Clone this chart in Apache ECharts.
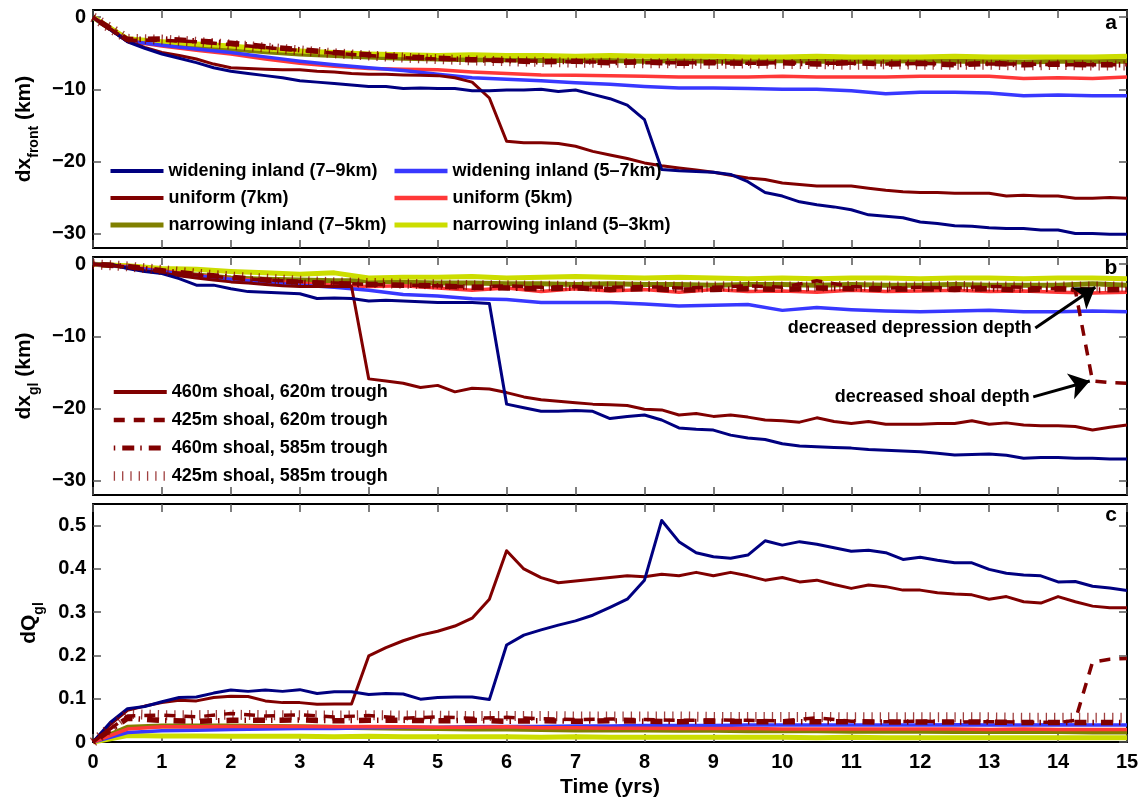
<!DOCTYPE html>
<html><head><meta charset="utf-8">
<script src="https://cdn.jsdelivr.net/npm/echarts@6/dist/echarts.min.js"></script>
<style>html,body{margin:0;padding:0;background:#fff}#c{width:1142px;height:799px}</style>
</head><body><div id="c"></div><script>
// ---------- DATA ----------
const tFine = [0,0.25,0.5,0.75,1,1.25,1.5,1.75,2,2.25,2.5,2.75,3,3.25,3.5,3.75,4,4.25,4.5,4.75,5,5.25,5.5,5.75,6,6.25,6.5,6.75,7,7.25,7.5,7.75,8,8.25,8.5,8.75,9,9.25,9.5,9.75,10,10.25,10.5,10.75,11,11.25,11.5,11.75,12,12.25,12.5,12.75,13,13.25,13.5,13.75,14,14.25,14.5,14.75,15];
const tCoarse = [0,0.5,1,1.5,2,2.5,3,3.5,4,4.5,5,5.5,6,6.5,7,7.5,8,8.5,9,9.5,10,10.5,11,11.5,12,12.5,13,13.5,14,14.5,15];
const tShoal = [0,0.5,1,1.5,2,2.5,3,3.5,4,4.5,5,5.5,6,6.5,7,7.5,8,8.5,9,9.5,10,10.5,11,11.5,12,12.5,13,13.5,14,14.25,14.5,14.75,15];

const xTickLabels = [0,1,2,3,4,5,6,7,8,9,10,11,12,13,14,15];
const dxTicks = [-30,-20,-10,0];
const dqTicks = [0,0.1,0.2,0.3,0.4,0.5];

// panel a: dx_front (km)
const navyA = [0,-1.7,-3.4,-4.3,-5.1,-5.7,-6.3,-7.0,-7.5,-7.8,-8.1,-8.4,-8.8,-9.0,-9.2,-9.4,-9.6,-9.6,-9.9,-9.8,-9.9,-9.9,-10.2,-10.2,-10.1,-10.1,-10.0,-10.3,-10.1,-10.7,-11.3,-12.2,-14.2,-21.1,-21.3,-21.4,-21.5,-21.8,-22.8,-24.3,-24.8,-25.6,-26.0,-26.3,-26.7,-27.4,-27.6,-27.8,-28.4,-28.6,-28.9,-29.0,-29.2,-29.3,-29.3,-29.5,-29.5,-30.0,-30.0,-30.1,-30.1];
const dredA = [0,-1.7,-3.3,-4.2,-4.9,-5.3,-5.8,-6.5,-7.0,-7.1,-7.2,-7.3,-7.3,-7.5,-7.6,-7.8,-7.9,-7.9,-8.0,-8.05,-8.1,-8.4,-9.0,-11.2,-17.2,-17.4,-17.4,-17.5,-17.9,-18.6,-19.1,-19.6,-20.2,-20.6,-20.9,-21.2,-21.5,-21.9,-22.3,-22.5,-23.0,-23.2,-23.4,-23.4,-23.4,-23.7,-24.0,-24.2,-24.3,-24.3,-24.4,-24.4,-24.4,-24.8,-24.7,-24.8,-24.8,-25.1,-25.1,-25.0,-25.1];
const blueA = [0,-3.3,-3.9,-4.4,-4.9,-5.5,-6.1,-6.6,-7.0,-7.4,-7.9,-8.4,-8.6,-8.8,-9.1,-9.3,-9.6,-9.8,-9.8,-9.9,-10.0,-10.0,-10.2,-10.6,-10.4,-10.4,-10.5,-10.9,-10.8,-10.9,-10.9];
const redA = [0,-3.3,-4.0,-4.6,-5.1,-5.8,-6.4,-6.8,-7.1,-7.2,-7.3,-7.6,-7.8,-8.0,-8.05,-8.1,-8.2,-8.3,-8.3,-8.3,-8.2,-8.3,-8.3,-8.3,-8.2,-8.2,-8.2,-8.5,-8.4,-8.5,-8.3];
const oliveA = [0,-3.2,-3.7,-4.0,-4.4,-4.8,-5.1,-5.3,-5.5,-5.7,-5.8,-5.9,-5.9,-6.0,-6.0,-6.0,-6.1,-6.0,-6.1,-6.1,-6.0,-6.1,-6.1,-6.1,-6.0,-6.1,-6.1,-6.2,-6.1,-6.1,-6.1];
const yellowA = [0,-3.0,-3.4,-3.7,-4.0,-4.4,-4.7,-4.9,-5.1,-5.2,-5.3,-5.2,-5.3,-5.3,-5.4,-5.3,-5.4,-5.4,-5.4,-5.5,-5.5,-5.4,-5.5,-5.5,-5.5,-5.4,-5.5,-5.5,-5.5,-5.5,-5.4];
const dashA = [0,-3.2,-3.2,-3.4,-3.8,-4.2,-4.6,-5.0,-5.3,-5.6,-5.8,-5.9,-6.0,-6.1,-6.2,-6.2,-6.3,-6.3,-6.3,-6.4,-6.3,-6.4,-6.4,-6.5,-6.4,-6.5,-6.5,-6.5,-6.6,-6.6,-6.6];
const dashdotA = [0,-3.1,-3.0,-3.3,-3.6,-4.1,-4.5,-4.9,-5.2,-5.5,-5.7,-5.9,-6.0,-6.2,-6.1,-6.3,-6.2,-6.4,-6.3,-6.4,-6.3,-6.5,-6.3,-6.5,-6.4,-6.6,-6.4,-6.6,-6.5,-6.6,-6.6];
const dottedA = [0,-3.0,-3.1,-3.4,-3.8,-4.2,-4.6,-5.0,-5.3,-5.6,-5.8,-6.0,-6.1,-6.2,-6.3,-6.3,-6.4,-6.4,-6.5,-6.4,-6.5,-6.5,-6.6,-6.5,-6.6,-6.6,-6.6,-6.7,-6.6,-6.7,-6.7];

// panel b: dx_gl (km)
const navyB = [0,0,-0.6,-1.0,-1.3,-2.0,-2.9,-2.9,-3.4,-3.8,-3.9,-4.0,-4.1,-4.75,-4.7,-4.75,-5.1,-5.0,-5.1,-5.2,-5.3,-5.3,-5.3,-5.45,-19.4,-19.9,-20.4,-20.4,-20.3,-20.4,-21.4,-21.1,-20.9,-21.6,-22.7,-22.9,-23.0,-23.7,-24.1,-24.3,-24.9,-25.2,-25.3,-25.4,-25.5,-25.7,-25.8,-25.9,-26.0,-26.2,-26.45,-26.4,-26.3,-26.5,-26.9,-26.8,-26.8,-26.9,-26.9,-27.0,-27.0];
const dredB = [0,0,-0.5,-0.9,-1.2,-1.6,-1.9,-2.2,-2.45,-2.6,-2.8,-3.0,-3.1,-3.1,-3.1,-3.1,-15.9,-16.2,-16.5,-17.1,-16.8,-17.7,-17.2,-17.3,-17.8,-18.4,-18.8,-19.0,-19.2,-19.4,-19.5,-19.6,-20.1,-20.2,-20.9,-20.7,-21.1,-20.9,-21.2,-21.6,-21.7,-21.9,-21.3,-21.8,-22.1,-21.8,-22.2,-22.2,-22.2,-22.1,-22.1,-21.7,-22.2,-22.0,-22.3,-22.4,-22.4,-22.5,-23.0,-22.6,-22.3];
const blueB = [0,-0.4,-1.0,-1.6,-2.1,-2.5,-2.9,-3.2,-3.6,-4.2,-4.4,-4.8,-4.9,-5.3,-5.3,-5.3,-5.5,-5.8,-5.7,-5.6,-6.4,-6.0,-6.3,-6.5,-6.6,-6.5,-6.4,-6.6,-6.6,-6.5,-6.6];
const redB = [0,-0.3,-0.9,-1.5,-2.0,-2.3,-2.6,-2.9,-3.1,-3.0,-3.3,-3.6,-3.3,-3.8,-3.4,-3.7,-3.5,-3.9,-3.5,-3.8,-3.7,-3.9,-3.6,-3.8,-3.7,-3.6,-3.8,-3.7,-3.9,-4.0,-3.9];
const oliveB = [0,-0.3,-1.1,-1.5,-1.9,-2.1,-2.2,-2.3,-2.3,-2.5,-2.6,-2.6,-2.7,-2.7,-2.8,-2.7,-2.8,-2.8,-2.9,-2.8,-2.8,-2.9,-2.8,-2.9,-2.9,-2.8,-2.9,-2.9,-2.9,-2.7,-2.9];
const yellowB = [0,-0.2,-0.6,-0.7,-1.0,-1.2,-1.4,-1.2,-1.9,-1.8,-1.8,-1.7,-1.9,-1.8,-1.7,-1.8,-1.9,-1.8,-1.9,-2.0,-1.9,-2.0,-1.9,-1.9,-2.0,-1.9,-1.9,-2.0,-1.9,-1.9,-2.0];
const dashB = [0,-0.4,-1.0,-1.5,-1.9,-2.2,-2.4,-2.6,-2.8,-2.9,-3.0,-3.1,-3.0,-3.2,-3.1,-3.2,-3.1,-3.3,-3.2,-3.0,-3.2,-2.3,-3.1,-3.3,-3.2,-3.3,-3.1,-3.2,-3.4,-3.6,-16.2,-16.4,-16.5];
const dashdotB = [0,-0.3,-0.9,-1.4,-1.8,-2.2,-2.5,-2.7,-2.8,-2.9,-3.0,-3.2,-3.3,-3.4,-3.3,-3.5,-3.4,-3.6,-3.5,-3.4,-3.5,-3.3,-3.4,-3.5,-3.4,-3.5,-3.4,-3.6,-3.4,-3.6,-3.5];
const dottedB = [0,-0.3,-0.8,-1.3,-1.7,-2.0,-2.3,-2.5,-2.6,-2.7,-2.8,-2.9,-2.9,-3.0,-3.0,-3.1,-3.0,-3.1,-3.1,-3.0,-3.1,-3.1,-3.0,-3.1,-3.1,-3.0,-3.1,-3.1,-3.1,-3.1,-3.1];

// panel c: dQ_gl
const navyC = [0,0.045,0.077,0.082,0.093,0.103,0.104,0.113,0.120,0.117,0.120,0.117,0.121,0.112,0.116,0.116,0.110,0.112,0.111,0.099,0.103,0.104,0.104,0.098,0.224,0.247,0.259,0.270,0.280,0.293,0.311,0.330,0.374,0.512,0.463,0.4375,0.428,0.4245,0.432,0.465,0.455,0.463,0.457,0.449,0.441,0.443,0.4375,0.422,0.427,0.420,0.414,0.414,0.399,0.390,0.386,0.384,0.370,0.371,0.360,0.356,0.350];
const dredC = [0,0.040,0.073,0.083,0.091,0.0965,0.095,0.103,0.106,0.105,0.095,0.091,0.091,0.087,0.088,0.088,0.199,0.218,0.234,0.247,0.256,0.268,0.286,0.330,0.442,0.400,0.380,0.368,0.372,0.376,0.380,0.384,0.382,0.3875,0.384,0.392,0.384,0.392,0.384,0.374,0.380,0.370,0.374,0.364,0.355,0.363,0.359,0.351,0.351,0.345,0.342,0.340,0.330,0.336,0.324,0.321,0.336,0.324,0.314,0.310,0.310];
const blueC = [0,0.022,0.026,0.027,0.029,0.030,0.031,0.031,0.033,0.034,0.034,0.035,0.036,0.036,0.037,0.037,0.038,0.038,0.038,0.039,0.039,0.039,0.039,0.039,0.039,0.040,0.039,0.039,0.040,0.039,0.039];
const redC = [0,0.030,0.035,0.035,0.036,0.036,0.036,0.035,0.036,0.035,0.034,0.034,0.035,0.033,0.033,0.032,0.032,0.031,0.031,0.031,0.030,0.030,0.030,0.030,0.030,0.030,0.029,0.030,0.029,0.029,0.029];
const oliveC = [0,0.034,0.037,0.037,0.037,0.036,0.035,0.034,0.033,0.032,0.031,0.030,0.030,0.029,0.028,0.028,0.028,0.027,0.027,0.026,0.026,0.026,0.025,0.025,0.025,0.024,0.024,0.024,0.024,0.023,0.023];
const yellowC = [0,0.015,0.014,0.014,0.013,0.013,0.013,0.012,0.013,0.012,0.012,0.012,0.012,0.011,0.012,0.011,0.011,0.011,0.011,0.011,0.011,0.010,0.011,0.010,0.010,0.010,0.010,0.010,0.010,0.010,0.010];
const dashC = [0,0.060,0.062,0.058,0.066,0.060,0.063,0.058,0.061,0.055,0.058,0.055,0.057,0.054,0.052,0.053,0.052,0.050,0.051,0.050,0.049,0.056,0.048,0.047,0.048,0.046,0.047,0.046,0.045,0.050,0.185,0.191,0.193];
const dashdotC = [0,0.055,0.050,0.048,0.050,0.050,0.051,0.049,0.050,0.050,0.049,0.050,0.048,0.049,0.048,0.049,0.048,0.047,0.048,0.047,0.047,0.047,0.047,0.046,0.046,0.046,0.046,0.045,0.045,0.045,0.045];
const dottedC = [0,0.065,0.062,0.062,0.063,0.062,0.062,0.061,0.062,0.061,0.061,0.060,0.060,0.060,0.059,0.059,0.059,0.059,0.058,0.058,0.058,0.058,0.057,0.057,0.057,0.057,0.057,0.056,0.056,0.056,0.056];

// annotation arrows (data coordinates in panel b): [startX, startY, endX, endY, text]
const annotations = [
  [13.67, -8.86, 14.54, -3.19, 'decreased depression depth'],
  [13.64, -18.4, 14.46, -16.2, 'decreased shoal depth']
];

const N = {
  w79:'widening inland (7\u20139km)', w57:'widening inland (5\u20137km)',
  u7:'uniform (7km)', u5:'uniform (5km)',
  n75:'narrowing inland (7\u20135km)', n53:'narrowing inland (5\u20133km)',
  s460_620:'460m shoal, 620m trough', s425_620:'425m shoal, 620m trough',
  s460_585:'460m shoal, 585m trough', s425_585:'425m shoal, 585m trough'
};

// ---------- STYLE ----------
const FONT = "'Liberation Sans', Arial, Helvetica, sans-serif";
const STY = {
  navy:{color:'#000080', width:3, type:'solid'},
  dred:{color:'#800000', width:3, type:'solid'},
  blue:{color:'#3838FF', width:3.5, type:'solid'},
  red:{color:'#FF3838', width:3.5, type:'solid'},
  olive:{color:'#808000', width:5, type:'solid'},
  yellow:{color:'#CCDD00', width:5, type:'solid'},
  dash:{color:'#800000', width:3.5, type:[11,9]},
  dashdot:{color:'#800000', width:5.5, type:[1.5,7,12,6]},
  dot:{color:'#800000', width:10, type:[1.3,7], opacity:0.75}
};
function S(name, t, v, gi, st, extra) {
  return Object.assign({
    type:'line', name:name, xAxisIndex:gi, yAxisIndex:gi,
    data:t.map((x,i)=>[x, v[i]]), symbol:'none', showSymbol:false,
    animation:false, silent:true,
    lineStyle:{color:st.color, width:st.width, type:st.type, opacity:(st.opacity==null?1:st.opacity), cap:'butt', join:'round'},
    itemStyle:{color:st.color}, emphasis:{disabled:true}
  }, extra || {});
}
function L(name, st, w) {
  return {name:name, itemStyle:{opacity:0},
    lineStyle:{color:st.color, width:(w||st.width), type:st.type, opacity:(st.opacity==null?1:st.opacity), cap:'butt'}};
}

const grids = [
  {left:93, right:15, top:10, height:238},
  {left:93, right:15, top:257, height:238},
  {left:93, right:15, top:504, height:238}
];
const tickStyle = {show:true, inside:true, length:8, lineStyle:{color:'#555', width:1.5}};
const lineStyleAx = {show:true, onZero:false, lineStyle:{color:'#000', width:2}};
const lblStyle = {fontSize:20, fontWeight:'bold', color:'#000', fontFamily:FONT};

function xAx(gi, pos, showLabel, name) {
  const a = {type:'value', gridIndex:gi, position:pos, min:0, max:15, interval:1,
    axisLine:lineStyleAx, axisTick:tickStyle, splitLine:{show:false},
    axisLabel:Object.assign({show:showLabel, margin:10, customValues:xTickLabels}, lblStyle)};
  if (name) {
    a.name = name; a.nameLocation = 'middle'; a.nameGap = 35;
    a.nameTextStyle = {fontSize:21, fontWeight:'bold', color:'#000', fontFamily:FONT};
  }
  return a;
}
function fmtY(v){ return v < 0 ? '\u2212' + Math.abs(v) : String(v); }
const rich = {
  n:{fontSize:21, fontWeight:'bold', color:'#000', fontFamily:FONT, lineHeight:21, verticalAlign:'top'},
  s:{fontSize:14, fontWeight:'bold', color:'#000', fontFamily:FONT, lineHeight:14, padding:[13,0,0,0], verticalAlign:'top'}
};
function yAx(gi, pos, min, max, ticks, showLabel, name) {
  const a = {type:'value', gridIndex:gi, position:pos, min:min, max:max,
    axisLine:lineStyleAx,
    axisTick:Object.assign({customValues:ticks}, tickStyle),
    splitLine:{show:false},
    axisLabel:Object.assign({show:showLabel, margin:7, customValues:ticks, formatter:fmtY}, lblStyle)};
  if (name) {
    a.name = name; a.nameLocation = 'middle'; a.nameGap = 53; a.nameRotate = 90;
    a.nameTextStyle = {rich:rich};
  }
  return a;
}

const series = [
  // panel a
  S(N.n75, tCoarse, oliveA, 0, STY.olive),
  S(N.n53, tCoarse, yellowA, 0, STY.yellow),
  S(N.u5, tCoarse, redA, 0, STY.red),
  S(N.w57, tCoarse, blueA, 0, STY.blue),
  S(N.u7, tFine, dredA, 0, STY.dred),
  S(N.w79, tFine, navyA, 0, STY.navy),
  S(N.s425_620, tCoarse, dashA, 0, STY.dash),
  S(N.s460_585, tCoarse, dashdotA, 0, STY.dashdot),
  S(N.s425_585, tCoarse, dottedA, 0, STY.dot),
  // panel b
  S(N.n75, tCoarse, oliveB, 1, STY.olive),
  S(N.n53, tCoarse, yellowB, 1, STY.yellow),
  S(N.u5, tCoarse, redB, 1, STY.red),
  S(N.w57, tCoarse, blueB, 1, STY.blue),
  S(N.s460_620, tFine, dredB, 1, STY.dred),
  S(N.w79, tFine, navyB, 1, STY.navy, {
    markLine:{silent:true, animation:false, symbol:['none','arrow'], symbolSize:20,
      lineStyle:{color:'#000', width:3, type:'solid'}, label:{show:false},
      data:annotations.map(a=>[{coord:[a[0],a[1]]},{coord:[a[2],a[3]]}])},
    markPoint:{silent:true, animation:false, symbol:'circle', symbolSize:1,
      itemStyle:{color:'rgba(0,0,0,0)'},
      label:{show:true, position:'left', distance:3, formatter:'{b}', fontSize:18, fontWeight:'bold', color:'#000', fontFamily:FONT},
      data:annotations.map(a=>({name:a[4], coord:[a[0],a[1]]}))}
  }),
  S(N.s425_620, tShoal, dashB, 1, STY.dash),
  S(N.s460_585, tCoarse, dashdotB, 1, STY.dashdot),
  S(N.s425_585, tCoarse, dottedB, 1, STY.dot),
  // panel c
  S(N.n75, tCoarse, oliveC, 2, STY.olive),
  S(N.n53, tCoarse, yellowC, 2, STY.yellow),
  S(N.w57, tCoarse, blueC, 2, STY.blue),
  S(N.u5, tCoarse, redC, 2, STY.red),
  S(N.u7, tFine, dredC, 2, STY.dred),
  S(N.w79, tFine, navyC, 2, STY.navy),
  S(N.s425_620, tShoal, dashC, 2, STY.dash),
  S(N.s460_585, tCoarse, dashdotC, 2, STY.dashdot),
  S(N.s425_585, tCoarse, dottedC, 2, STY.dot)
];

const legText = {fontSize:18, fontWeight:'bold', color:'#000', fontFamily:FONT, lineHeight:18};
const legBase = {orient:'vertical', padding:0, itemWidth:53, itemHeight:14, selectedMode:false, textStyle:legText, backgroundColor:'transparent', itemStyle:{opacity:0}};

const option = {
  backgroundColor:'#fff',
  animation:false,
  grid:grids,
  xAxis:[
    xAx(0,'bottom',false), xAx(1,'bottom',false), xAx(2,'bottom',true,'Time (yrs)'),
    xAx(0,'top',false), xAx(1,'top',false), xAx(2,'top',false)
  ],
  yAxis:[
    yAx(0,'left',-32,1,dxTicks,true,'{n|dx}{s|front}{n| (km)}'),
    yAx(1,'left',-32,1,dxTicks,true,'{n|dx}{s|gl}{n| (km)}'),
    yAx(2,'left',0,0.55,dqTicks,true,'{n|dQ}{s|gl}'),
    yAx(0,'right',-32,1,dxTicks,false), yAx(1,'right',-32,1,dxTicks,false), yAx(2,'right',0,0.55,dqTicks,false)
  ],
  legend:[
    Object.assign({}, legBase, {left:108, top:162, itemGap:9, data:[L(N.w79,STY.navy,4), L(N.u7,STY.dred,4), L(N.n75,STY.olive,5)]}),
    Object.assign({}, legBase, {left:392, top:162, itemGap:9, data:[L(N.w57,STY.blue,4.5), L(N.u5,STY.red,4.5), L(N.n53,STY.yellow,5)]}),
    Object.assign({}, legBase, {left:109, top:383, itemGap:10, data:[L(N.s460_620,STY.dred,4), L(N.s425_620,STY.dash,4.5), L(N.s460_585,STY.dashdot,5), L(N.s425_585,STY.dot,9.5)]})
  ],
  graphic:[
    {type:'text', x:1111, y:23, style:{text:'a', font:'bold 21px '+FONT, fill:'#000', align:'center', verticalAlign:'middle', textAlign:'center', textVerticalAlign:'middle'}},
    {type:'text', x:1111, y:268, style:{text:'b', font:'bold 21px '+FONT, fill:'#000', align:'center', verticalAlign:'middle', textAlign:'center', textVerticalAlign:'middle'}},
    {type:'text', x:1111, y:515, style:{text:'c', font:'bold 21px '+FONT, fill:'#000', align:'center', verticalAlign:'middle', textAlign:'center', textVerticalAlign:'middle'}}
  ],
  series:series
};
const chart = echarts.init(document.getElementById('c'), null, {renderer:'canvas'});
chart.setOption(option);
</script></body></html>
